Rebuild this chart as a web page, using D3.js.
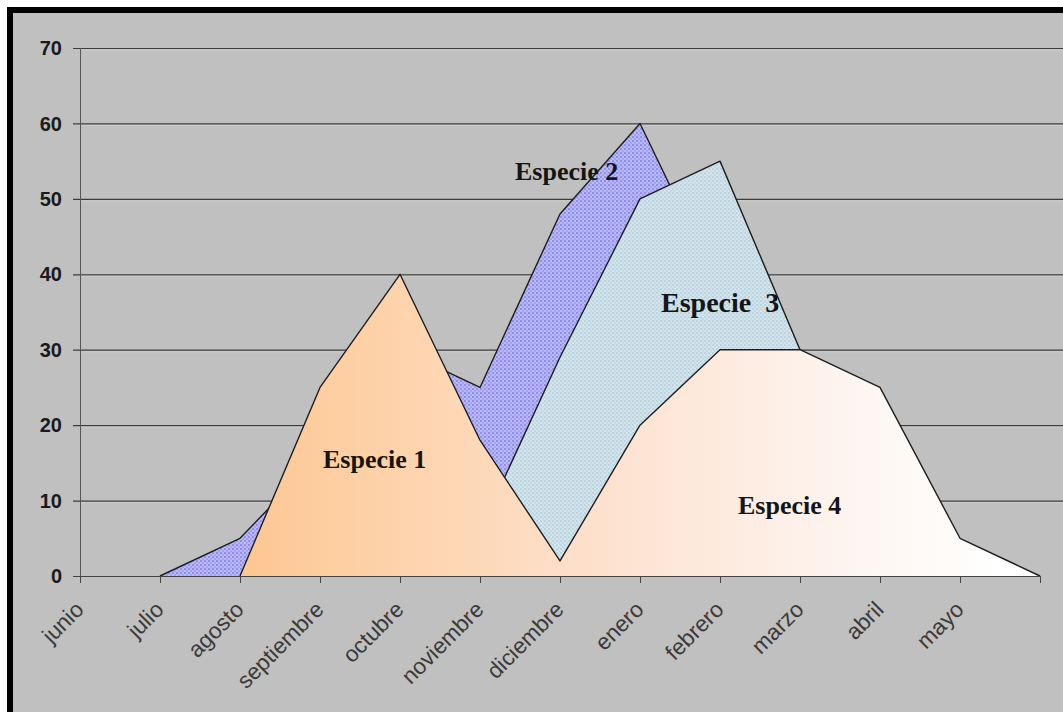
<!DOCTYPE html>
<html>
<head>
<meta charset="utf-8">
<script src="https://cdn.jsdelivr.net/npm/d3@7"></script>
<style>
  html, body { margin: 0; padding: 0; background: #ffffff; }
  svg { display: block; }
</style>
</head>
<body>
<svg id="chart" width="1063" height="712"></svg>
<script>
// Months of the season (the last slot closes the cycle and carries no label)
const months = ["junio", "julio", "agosto", "septiembre", "octubre", "noviembre",
                "diciembre", "enero", "febrero", "marzo", "abril", "mayo", ""];

// Abundance of each species per month (null = species absent from the series)
const especie1 = [null, null, 0, 25, 40, 18, 2, null, null, null, null, null, null];
const especie2 = [null, 0, 5, 16, 30, 25, 48, 60, 38, 20, 0, null, null];
const especie3 = [null, null, null, null, 0, 6, 29, 50, 55, 30, 10, 0, null];
const especie4 = [null, null, null, null, null, null, 2, 20, 30, 30, 25, 5, 0];

const yTicks = [0, 10, 20, 30, 40, 50, 60, 70];

const svg = d3.select("#chart");
const W = 1063, H = 712;

// Frame: black top/left border, grey chart area
svg.append("rect").attr("x", 7).attr("y", 7).attr("width", W).attr("height", H).attr("fill", "#000");
svg.append("rect").attr("x", 13).attr("y", 13).attr("width", W).attr("height", H).attr("fill", "#c0c0c0");

const x = d3.scalePoint().domain(months).range([80, 1040]);
const y = d3.scaleLinear().domain([0, 70]).range([576, 48]);

const defs = svg.append("defs");

// Dotted fill for Especie 2
const p2 = defs.append("pattern").attr("id", "dots").attr("patternUnits", "userSpaceOnUse")
  .attr("width", 4).attr("height", 4);
p2.append("rect").attr("width", 4).attr("height", 4).attr("fill", "#b8b8fa");
p2.append("rect").attr("x", 0).attr("y", 0).attr("width", 2).attr("height", 2).attr("fill", "#9090ea");
p2.append("rect").attr("x", 2).attr("y", 2).attr("width", 2).attr("height", 2).attr("fill", "#a2a2f0");

// Fine checker fill for Especie 3
const p3 = defs.append("pattern").attr("id", "checker").attr("patternUnits", "userSpaceOnUse")
  .attr("width", 4).attr("height", 4);
p3.append("rect").attr("width", 4).attr("height", 4).attr("fill", "#d3e5ec");
p3.append("rect").attr("x", 0).attr("y", 0).attr("width", 2).attr("height", 2).attr("fill", "#bdd3de");
p3.append("rect").attr("x", 2).attr("y", 2).attr("width", 2).attr("height", 2).attr("fill", "#c4d9e3");

// Orange-to-white horizontal gradient shared by Especie 1 and Especie 4
const g = defs.append("linearGradient").attr("id", "warm").attr("gradientUnits", "userSpaceOnUse")
  .attr("x1", 250).attr("y1", 0).attr("x2", 1000).attr("y2", 0);
g.append("stop").attr("offset", "0%").attr("stop-color", "#fdc794");
g.append("stop").attr("offset", "12%").attr("stop-color", "#fdcfa2");
g.append("stop").attr("offset", "50%").attr("stop-color", "#fde3d2");
g.append("stop").attr("offset", "80%").attr("stop-color", "#fdf5f0");
g.append("stop").attr("offset", "100%").attr("stop-color", "#ffffff");

// Horizontal gridlines
const grid = svg.append("g");
yTicks.filter(t => t > 0).forEach(t => {
  grid.append("line").attr("x1", 73).attr("x2", W).attr("y1", y(t) + 0.5).attr("y2", y(t) + 0.5)
    .attr("stroke", "#3c3c3c").attr("stroke-width", 1.2);
  grid.append("line").attr("x1", 80).attr("x2", W).attr("y1", y(t) + 2).attr("y2", y(t) + 2)
    .attr("stroke", "#cdcdcd").attr("stroke-width", 1);
});

function series(vals) {
  return months.map((m, i) => ({ m, v: vals[i] }));
}
const area = d3.area().defined(d => d.v != null)
  .x(d => x(d.m)).y0(y(0)).y1(d => y(d.v));
const line = d3.line().defined(d => d.v != null)
  .x(d => x(d.m)).y(d => y(d.v));

function drawArea(vals, fill) {
  const s = series(vals);
  svg.append("path").datum(s).attr("d", area).attr("fill", fill);
  svg.append("path").datum(s).attr("d", line).attr("fill", "none")
    .attr("stroke", "#1e1e1e").attr("stroke-width", 1.4).attr("stroke-linejoin", "round");
}

drawArea(especie2, "url(#dots)");
drawArea(especie3, "url(#checker)");
// Especie 1 and Especie 4 meet in December and share one gradient fill
const especie14 = especie1.map((v, i) => v != null ? v : especie4[i]);
drawArea(especie14, "url(#warm)");

// Axes
const axisG = svg.append("g");
axisG.append("line").attr("x1", 80.5).attr("x2", 80.5).attr("y1", y(70)).attr("y2", y(0))
  .attr("stroke", "#555").attr("stroke-width", 1);
axisG.append("line").attr("x1", 73).attr("x2", 1040).attr("y1", y(0) + 0.5).attr("y2", y(0) + 0.5)
  .attr("stroke", "#444").attr("stroke-width", 1.2);
yTicks.forEach(t => {
  axisG.append("text").attr("x", 62).attr("y", y(t)).attr("dy", "0.36em")
    .attr("text-anchor", "end").attr("font-family", "Liberation Sans, Arial, sans-serif")
    .attr("font-weight", "bold").attr("font-size", 20).attr("fill", "#1a1a1a").text(t);
});
months.forEach(m => {
  const px = x(m);
  axisG.append("line").attr("x1", px + 0.5).attr("x2", px + 0.5).attr("y1", y(0)).attr("y2", y(0) + 7)
    .attr("stroke", "#444").attr("stroke-width", 1);
  if (m) {
    axisG.append("text").attr("transform", `translate(${px + 5},${y(0) + 35}) rotate(-45)`)
      .attr("text-anchor", "end").attr("font-family", "Liberation Sans, Arial, sans-serif")
      .attr("font-size", 22.5).attr("fill", "#3a3a3a").text(m);
  }
});

// Species labels
const labels = [
  { t: "Especie 1", x: 323, y: 468, s: 26 },
  { t: "Especie 2", x: 515, y: 180, s: 26 },
  { t: "Especie  3", x: 661, y: 312, s: 28 },
  { t: "Especie 4", x: 738, y: 514, s: 26 }
];
labels.forEach(l => {
  svg.append("text").attr("x", l.x).attr("y", l.y)
    .attr("font-family", "Liberation Serif, Times New Roman, serif").attr("font-weight", "bold")
    .attr("font-size", l.s).attr("fill", "#151515").attr("xml:space", "preserve")
    .style("white-space", "pre").text(l.t);
});
</script>
</body>
</html>
